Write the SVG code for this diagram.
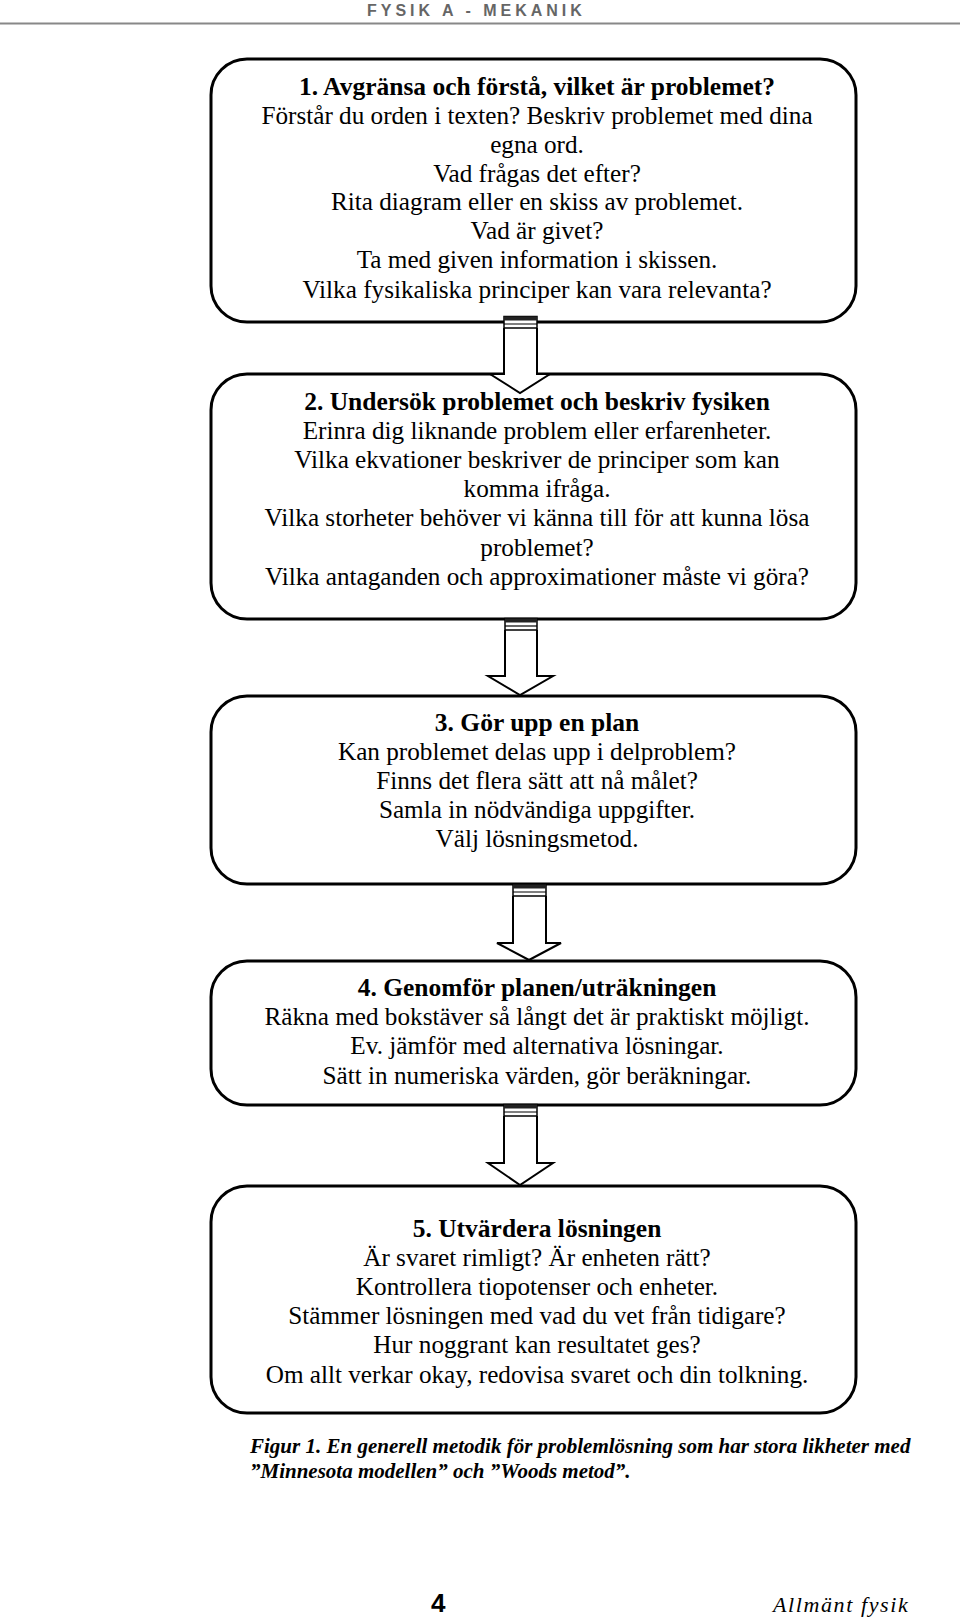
<svg xmlns="http://www.w3.org/2000/svg" width="960" height="1617" viewBox="0 0 960 1617">
<style>
.box{fill:#fff;stroke:#000;stroke-width:3}
.t{font-family:"Liberation Serif","Times New Roman",serif;font-size:25.2px;text-anchor:middle;fill:#000}
.b{font-weight:bold;font-size:25.5px}
.arr{fill:#fff;stroke:#000;stroke-width:2;stroke-linejoin:miter}
.cap{fill:#fff;stroke:#000;stroke-width:1.5}
.band{fill:#222}
.cap-line{stroke:#000;stroke-width:1.2}
.hdr{font-family:"Liberation Sans",Arial,sans-serif;font-weight:bold;font-size:16px;letter-spacing:4px;fill:#666}
.cap-t{font-family:"Liberation Serif","Times New Roman",serif;font-style:italic;font-weight:bold;font-size:21px;fill:#000}
</style>
<rect width="960" height="1617" fill="#fff"/>
<text class="hdr" x="367" y="16">FYSIK A - MEKANIK</text>
<line x1="0" y1="23.5" x2="960" y2="23.5" stroke="#888" stroke-width="2"/>

<g id="node1">
<rect class="box" x="211" y="59" width="645" height="263" rx="36" ry="36"/>
<text class="t b" x="537" y="95">1. Avgränsa och förstå, vilket är problemet?</text>
<text class="t" x="537" y="124">Förstår du orden i texten? Beskriv problemet med dina</text>
<text class="t" x="537" y="153">egna ord.</text>
<text class="t" x="537" y="181.5">Vad frågas det efter?</text>
<text class="t" x="537" y="210">Rita diagram eller en skiss av problemet.</text>
<text class="t" x="537" y="239">Vad är givet?</text>
<text class="t" x="537" y="268">Ta med given information i skissen.</text>
<text class="t" x="537" y="298">Vilka fysikaliska principer kan vara relevanta?</text>
</g>

<g id="node2">
<rect class="box" x="211" y="374" width="645" height="245" rx="36" ry="36"/>
<text class="t b" x="537" y="410">2. Undersök problemet och beskriv fysiken</text>
<text class="t" x="537" y="439">Erinra dig liknande problem eller erfarenheter.</text>
<text class="t" x="537" y="468">Vilka ekvationer beskriver de principer som kan</text>
<text class="t" x="537" y="497">komma ifråga.</text>
<text class="t" x="537" y="526">Vilka storheter behöver vi känna till för att kunna lösa</text>
<text class="t" x="537" y="556">problemet?</text>
<text class="t" x="537" y="585">Vilka antaganden och approximationer måste vi göra?</text>
</g>

<g id="node3">
<rect class="box" x="211" y="696" width="645" height="188" rx="36" ry="36"/>
<text class="t b" x="537" y="731">3. Gör upp en plan</text>
<text class="t" x="537" y="760">Kan problemet delas upp i delproblem?</text>
<text class="t" x="537" y="789">Finns det flera sätt att nå målet?</text>
<text class="t" x="537" y="818">Samla in nödvändiga uppgifter.</text>
<text class="t" x="537" y="847">Välj lösningsmetod.</text>
</g>

<g id="node4">
<rect class="box" x="211" y="961" width="645" height="144" rx="36" ry="36"/>
<text class="t b" x="537" y="996">4. Genomför planen/uträkningen</text>
<text class="t" x="537" y="1025">Räkna med bokstäver så långt det är praktiskt möjligt.</text>
<text class="t" x="537" y="1054">Ev. jämför med alternativa lösningar.</text>
<text class="t" x="537" y="1083.5">Sätt in numeriska värden, gör beräkningar.</text>
</g>

<g id="node5">
<rect class="box" x="211" y="1186" width="645" height="227" rx="36" ry="36"/>
<text class="t b" x="537" y="1237">5. Utvärdera lösningen</text>
<text class="t" x="537" y="1266">Är svaret rimligt? Är enheten rätt?</text>
<text class="t" x="537" y="1295">Kontrollera tiopotenser och enheter.</text>
<text class="t" x="537" y="1324">Stämmer lösningen med vad du vet från tidigare?</text>
<text class="t" x="537" y="1353">Hur noggrant kan resultatet ges?</text>
<text class="t" x="537" y="1383">Om allt verkar okay, redovisa svaret och din tolkning.</text>
</g>

<g id="connectors">
<g id="arrow1">
<path class="arr" d="M504,328 L504,374 L490,374 L520,393 L550,374 L537,374 L537,328"/>
<rect class="cap" x="504" y="316.5" width="33" height="11.5"/>
<rect class="band" x="504" y="316.5" width="33" height="4"/>
<line class="cap-line" x1="504" y1="324" x2="537" y2="324"/>
</g>
<g id="arrow2">
<path class="arr" d="M505,630 L505,676 L488,676 L520,695 L553,676 L537,676 L537,630"/>
<rect class="cap" x="505" y="618.5" width="32" height="11.5"/>
<rect class="band" x="505" y="618.5" width="32" height="4"/>
<line class="cap-line" x1="505" y1="626" x2="537" y2="626"/>
</g>
<g id="arrow3">
<path class="arr" d="M513,896 L513,943 L497,943 L529,960 L561,943 L546,943 L546,896"/>
<rect class="cap" x="513" y="884.5" width="33" height="11.5"/>
<rect class="band" x="513" y="884.5" width="33" height="4"/>
<line class="cap-line" x1="513" y1="892" x2="546" y2="892"/>
</g>
<g id="arrow4">
<path class="arr" d="M504,1116 L504,1163 L488,1163 L520,1185 L553,1163 L537,1163 L537,1116"/>
<rect class="cap" x="504" y="1104.5" width="33" height="11.5"/>
<rect class="band" x="504" y="1104.5" width="33" height="4"/>
<line class="cap-line" x1="504" y1="1112" x2="537" y2="1112"/>
</g>
</g>

<text class="cap-t" x="250" y="1453">Figur 1. En generell metodik för problemlösning som har stora likheter med</text>
<text class="cap-t" x="250" y="1478">”Minnesota modellen” och ”Woods metod”.</text>

<text x="431" y="1612" font-family="Liberation Sans,Arial,sans-serif" font-weight="bold" font-size="26" fill="#000">4</text>
<text x="773" y="1612" font-family="Liberation Serif,Times New Roman,serif" font-style="italic" font-size="22" letter-spacing="1.6" fill="#000">Allmänt fysik</text>
</svg>
